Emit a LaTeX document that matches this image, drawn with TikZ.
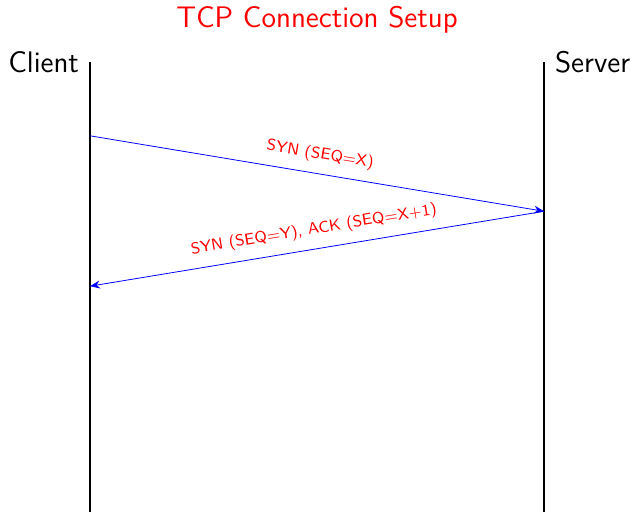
\documentclass[tikz,border=0pt]{standalone}
\usepackage{xcolor}
\usepackage{tikz}
\usetikzlibrary{arrows.meta,positioning,calc}
\renewcommand{\familydefault}{\sfdefault}

\begin{document}
\begin{tikzpicture}[
        big/.style={font=\fontsize{14.9}{18}\selectfont},
        lifeline/.style={draw, thick},
        msg/.style={-{Stealth[length=5pt,width=4pt]}, blue},
        msglabel/.style={font=\footnotesize, text=red, sloped, above=2pt}
    ]
        \useasboundingbox (-1.586,1.093) rectangle (9.568,-7.930);

        \node[big, text=red] (title) at (4,0.74) {TCP Connection Setup};

        \coordinate (ctop) at (0,0);
        \coordinate (cbot) at (0,-7.930);
        \coordinate (stop) at (8,0);
        \coordinate (sbot) at (8,-7.930);

        \node[big, left=2pt of ctop] (client) {Client};
        \node[big, right=2pt of stop] (server) {Server};

        \draw[lifeline] (ctop) -- (cbot);
        \draw[lifeline] (stop) -- (sbot);

        % handshake
        \coordinate (c1) at (0,-1.30);
        \coordinate (s1) at (8,-2.63);
        \coordinate (c2) at (0,-3.95);

        \draw[msg] (c1) -- node[msglabel] {SYN (SEQ=X)} (s1);
        \draw[msg] (s1) -- node[msglabel] {SYN (SEQ=Y), ACK (SEQ=X+1)} (c2);
    \end{tikzpicture}
\end{document}
